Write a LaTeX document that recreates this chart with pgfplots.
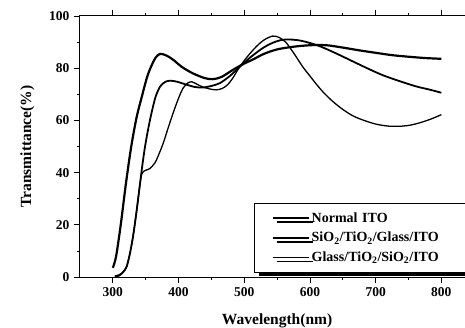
\documentclass[border=0pt]{standalone}
\usepackage{fontspec}
\setmainfont{Liberation Serif}
\usepackage{pgfplots}
\pgfplotsset{compat=1.18}
\usetikzlibrary{shadows}
\pgfplotstableread{
x y
300 3.5
305 8
312 20
320 36
328 50
336 61
344 69
352 76.5
358 80.5
365 84
372 85.5
382 84.8
392 83.2
405 80.5
422 78
440 76.2
452 75.8
465 76.6
483 79.4
500 81.8
513 83.3
530 85.5
550 87.2
574 88.2
600 88.8
625 88.8
650 87.9
676 86.8
700 85.9
725 85
750 84.4
775 83.9
800 83.6
}\tabA
\pgfplotstableread{
x y
303 0.3
310 0.8
316 2
321 4
326 9
331 16
336 25
341 35
345 43
349 50
354 57
359 63
365 69
372 73
380 74.8
388 75.2
398 74.8
412 73.7
425 72.8
437 72.6
450 73.2
463 74.3
478 77
493 80.5
510 84.3
530 88
548 90.2
563 91
585 90.6
612 88.7
637 86
662 83
687 80
711 77.3
737 75
762 73
782 71.8
800 70.6
}\tabB
\pgfplotstableread{
x y
303 0
310 0.5
316 2
321 4
326 9
331 16
336 25
341 35
344 39.5
349 40.8
356 41.5
364 43.7
370 47
377 51.5
384 57
392 63
400 68.5
407 72.4
414 74.3
420 74.8
427 74
435 73
445 72.2
457 71.7
466 72.2
474 73.5
482 76
493 80.5
505 84.5
518 88.2
530 90.8
543 92.3
553 91.8
563 90
572 87
580 84
590 80.2
600 77
610 73.8
621 70.6
635 67.2
650 64.2
665 61.8
680 60.2
700 58.6
720 57.8
740 57.8
755 58.3
770 59.3
785 60.6
800 62.2
}\tabC
\begin{document}
\begin{tikzpicture}
\begin{axis}[
  at={(0,0)}, anchor=south west,
  scale only axis,
  width=394.2pt, height=261pt,
  xmin=250, xmax=850, ymin=0, ymax=100,
  xtick={300,400,500,600,700,800},
  ytick={0,20,40,60,80,100},
  minor x tick num=1, minor y tick num=1,
  tick align=outside,
  major tick length=6pt, minor tick length=3pt,
  tick style={black, line width=0.8pt},
  axis line style={line width=1pt},
  ticklabel style={font=\fontsize{13.5}{15}\selectfont\bfseries},
  /pgf/number format/assume math mode=true,
  xticklabel style={yshift=-1pt},
  yticklabel style={xshift=-1pt},
  xlabel={\fontsize{15.5}{17}\selectfont\bfseries Wavelength(nm)},
  ylabel={\fontsize{15.5}{17}\selectfont\bfseries Transmittance(\%)},
  xlabel style={at={(rel axis cs:0.5,0)}, anchor=north, yshift=-33pt},
  ylabel style={yshift=8pt},
  legend style={at={(axis cs:515,1.7)}, anchor=south west,
    draw=black, line width=0.8pt, inner xsep=17pt, inner ysep=7pt,
    font=\fontsize{14}{16}\selectfont\bfseries,
    row sep=4.5pt,
    nodes={text width=160pt, align=left},
    drop shadow={shadow xshift=4pt, shadow yshift=-4pt, fill=black, opacity=1}},
  legend cell align=left,
  legend image code/.code={\draw[#1] (0pt,0pt) -- (36pt,0pt);},
  clip=false,
]
\addplot[black, line width=2.2pt, smooth] table {\tabA};
\addlegendentry{Normal ITO}
\addplot[black, line width=1.8pt, smooth] table {\tabB};
\addlegendentry{SiO\textsubscript{2}/TiO\textsubscript{2}/Glass/ITO}
\addplot[black, line width=1.3pt, smooth] table {\tabC};
\addlegendentry{Glass/TiO\textsubscript{2}/SiO\textsubscript{2}/ITO}
\end{axis}
\pgfresetboundingbox
\path[use as bounding box] (-80pt,-50pt) rectangle (385pt,277pt);
\end{tikzpicture}
\end{document}
